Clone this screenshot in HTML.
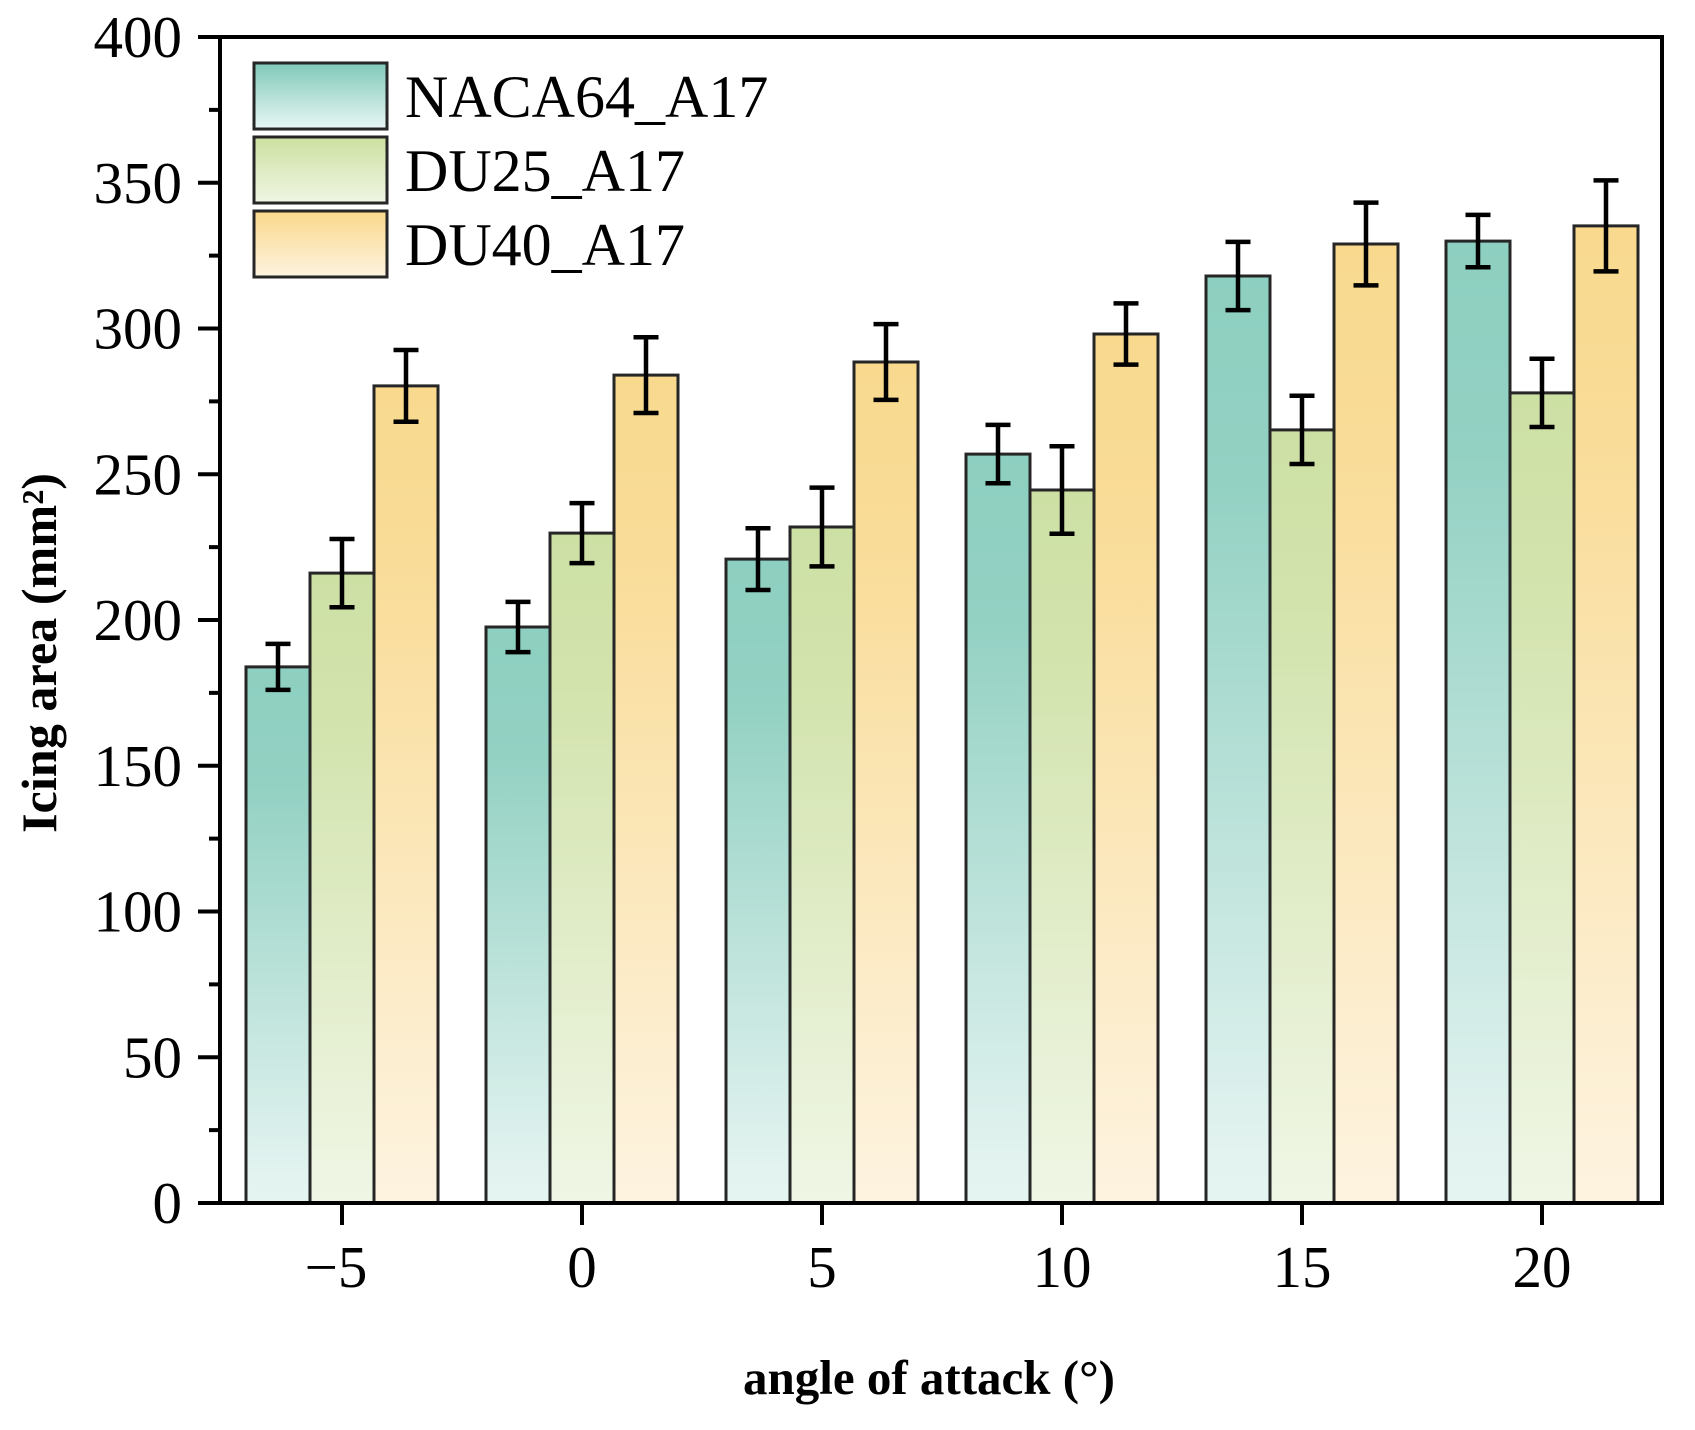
<!DOCTYPE html>
<html><head><meta charset="utf-8"><style>
html,body{margin:0;padding:0;background:#fff;}
svg{display:block;}
</style></head><body>
<svg width="1695" height="1430" viewBox="0 0 1695 1430" xmlns="http://www.w3.org/2000/svg">
<defs>
<linearGradient id="gN" x1="0" y1="0" x2="0" y2="1">
<stop offset="0" stop-color="#8dcfc0"/><stop offset="0.22" stop-color="#93d1c3"/><stop offset="0.95" stop-color="#e3f3f0"/><stop offset="1" stop-color="#e4f4f1"/></linearGradient>
<linearGradient id="gD" x1="0" y1="0" x2="0" y2="1">
<stop offset="0" stop-color="#cde0a4"/><stop offset="0.22" stop-color="#d2e3ac"/><stop offset="0.95" stop-color="#eef5e2"/><stop offset="1" stop-color="#eff6e4"/></linearGradient>
<linearGradient id="gU" x1="0" y1="0" x2="0" y2="1">
<stop offset="0" stop-color="#f8d98e"/><stop offset="0.22" stop-color="#f9dc98"/><stop offset="0.95" stop-color="#fdf2dc"/><stop offset="1" stop-color="#fdf3df"/></linearGradient>
<linearGradient id="lN" x1="0" y1="0" x2="0" y2="1"><stop offset="0" stop-color="#80c9b9"/><stop offset="1" stop-color="#e8f6f4"/></linearGradient>
<linearGradient id="lD" x1="0" y1="0" x2="0" y2="1"><stop offset="0" stop-color="#cde0a0"/><stop offset="1" stop-color="#eff6e4"/></linearGradient>
<linearGradient id="lU" x1="0" y1="0" x2="0" y2="1"><stop offset="0" stop-color="#f9d88a"/><stop offset="1" stop-color="#fdf3e0"/></linearGradient>
</defs>

<g stroke="#262626" stroke-width="3">
<rect x="246" y="666.9" width="64" height="536.1" fill="url(#gN)"/>
<rect x="310" y="573.1" width="64" height="629.9" fill="url(#gD)"/>
<rect x="374" y="385.9" width="64" height="817.1" fill="url(#gU)"/>
<rect x="486" y="627.0" width="64" height="576.0" fill="url(#gN)"/>
<rect x="550" y="533.1" width="64" height="669.9" fill="url(#gD)"/>
<rect x="614" y="375.1" width="64" height="827.9" fill="url(#gU)"/>
<rect x="726" y="559.1" width="64" height="643.9" fill="url(#gN)"/>
<rect x="790" y="527.0" width="64" height="676.0" fill="url(#gD)"/>
<rect x="854" y="362.0" width="64" height="841.0" fill="url(#gU)"/>
<rect x="966" y="454.1" width="64" height="748.9" fill="url(#gN)"/>
<rect x="1030" y="490.0" width="64" height="713.0" fill="url(#gD)"/>
<rect x="1094" y="334.0" width="64" height="869.0" fill="url(#gU)"/>
<rect x="1206" y="276.0" width="64" height="927.0" fill="url(#gN)"/>
<rect x="1270" y="429.9" width="64" height="773.1" fill="url(#gD)"/>
<rect x="1334" y="244.0" width="64" height="959.0" fill="url(#gU)"/>
<rect x="1446" y="241.1" width="64" height="961.9" fill="url(#gN)"/>
<rect x="1510" y="392.9" width="64" height="810.1" fill="url(#gD)"/>
<rect x="1574" y="225.9" width="64" height="977.1" fill="url(#gU)"/>
</g>

<g stroke="#000" stroke-width="4.5" fill="none">
<path d="M278 643.9V689.9M265.5 643.9H290.5M265.5 689.9H290.5"/>
<path d="M342 539.0V607.2M329.5 539.0H354.5M329.5 607.2H354.5"/>
<path d="M406 350.0V421.8M393.5 350.0H418.5M393.5 421.8H418.5"/>
<path d="M518 601.9V652.1M505.5 601.9H530.5M505.5 652.1H530.5"/>
<path d="M582 503.1V563.1M569.5 503.1H594.5M569.5 563.1H594.5"/>
<path d="M646 337.2V413.0M633.5 337.2H658.5M633.5 413.0H658.5"/>
<path d="M758 528.2V590.0M745.5 528.2H770.5M745.5 590.0H770.5"/>
<path d="M822 487.6V566.4M809.5 487.6H834.5M809.5 566.4H834.5"/>
<path d="M886 324.1V399.9M873.5 324.1H898.5M873.5 399.9H898.5"/>
<path d="M998 424.9V483.3M985.5 424.9H1010.5M985.5 483.3H1010.5"/>
<path d="M1062 446.3V533.7M1049.5 446.3H1074.5M1049.5 533.7H1074.5"/>
<path d="M1126 303.4V364.6M1113.5 303.4H1138.5M1113.5 364.6H1138.5"/>
<path d="M1238 241.9V310.1M1225.5 241.9H1250.5M1225.5 310.1H1250.5"/>
<path d="M1302 395.8V464.0M1289.5 395.8H1314.5M1289.5 464.0H1314.5"/>
<path d="M1366 202.6V285.4M1353.5 202.6H1378.5M1353.5 285.4H1378.5"/>
<path d="M1478 214.9V267.3M1465.5 214.9H1490.5M1465.5 267.3H1490.5"/>
<path d="M1542 358.8V427.0M1529.5 358.8H1554.5M1529.5 427.0H1554.5"/>
<path d="M1606 180.4V271.4M1593.5 180.4H1618.5M1593.5 271.4H1618.5"/>
</g>

<rect x="220" y="37" width="1442" height="1166" fill="none" stroke="#000" stroke-width="4"/>

<g stroke="#000" stroke-width="4">
<path d="M198 1203H220M209 1130.1H220M198 1057.25H220M209 984.4H220M198 911.5H220M209 838.6H220M198 765.75H220M209 692.9H220M198 620H220M209 547.1H220M198 474.25H220M209 401.4H220M198 328.5H220M209 255.6H220M198 182.75H220M209 109.9H220M198 37H220"/>
<path d="M342 1203V1225M582 1203V1225M822 1203V1225M1062 1203V1225M1302 1203V1225M1542 1203V1225"/>
</g>

<g font-family="'Liberation Serif', 'Times New Roman', serif" font-size="59" fill="#000" text-anchor="end">
<text x="182" y="1223">0</text>
<text x="182" y="1077.25">50</text>
<text x="182" y="931.5">100</text>
<text x="182" y="785.75">150</text>
<text x="182" y="640">200</text>
<text x="182" y="494.25">250</text>
<text x="182" y="348.5">300</text>
<text x="182" y="202.75">350</text>
<text x="182" y="57">400</text>
</g>

<g font-family="'Liberation Serif', 'Times New Roman', serif" font-size="59" fill="#000" text-anchor="middle">
<text x="336" y="1287">−5</text>
<text x="582" y="1287">0</text>
<text x="822" y="1287">5</text>
<text x="1062" y="1287">10</text>
<text x="1302" y="1287">15</text>
<text x="1542" y="1287">20</text>
</g>

<text x="929" y="1394" font-family="'Liberation Serif', 'Times New Roman', serif" font-size="49" font-weight="bold" text-anchor="middle" textLength="372" lengthAdjust="spacingAndGlyphs">angle of attack (°)</text>

<text transform="translate(56,653) rotate(-90)" x="0" y="0" font-family="'Liberation Serif', 'Times New Roman', serif" font-size="50" font-weight="bold" text-anchor="middle" textLength="360" lengthAdjust="spacingAndGlyphs">Icing area (mm²)</text>

<g stroke="#262626" stroke-width="3">
<rect x="254" y="63" width="133" height="66" fill="url(#lN)"/>
<rect x="254" y="137" width="133" height="66" fill="url(#lD)"/>
<rect x="254" y="211" width="133" height="66" fill="url(#lU)"/>
</g>
<g font-family="'Liberation Serif', 'Times New Roman', serif" font-size="60" fill="#000">
<text x="405" y="117">NACA64_A17</text>
<text x="405" y="191">DU25_A17</text>
<text x="405" y="265">DU40_A17</text>
</g>
</svg>
</body></html>
